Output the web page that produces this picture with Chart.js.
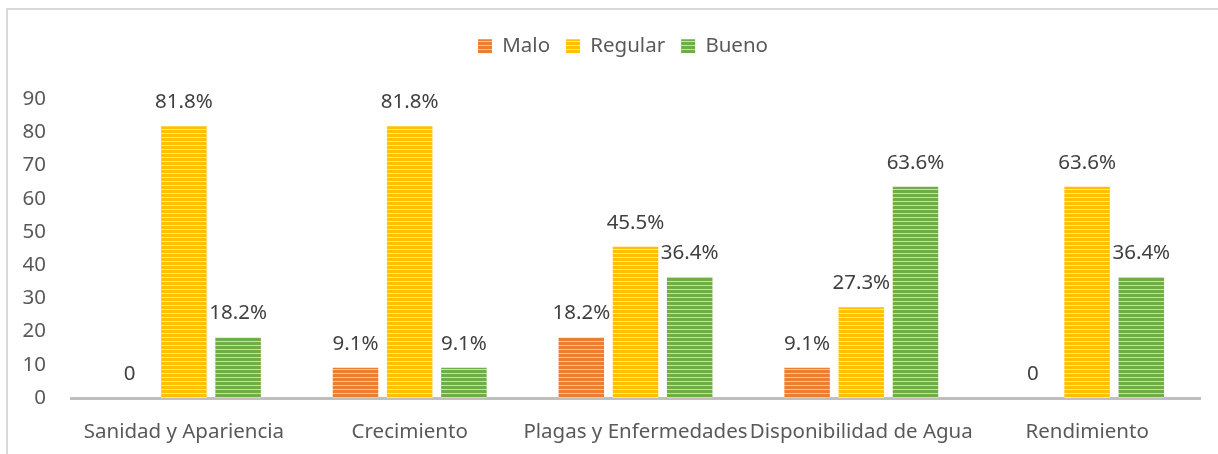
<!DOCTYPE html>
<html>
<head>
<meta charset="utf-8">
<script src="https://cdn.jsdelivr.net/npm/chart.js@4/dist/chart.umd.min.js"></script>
<style>
  body { margin: 0; background: #fff; }
  #wrap { position: relative; width: 1218px; height: 454px; overflow: hidden; }
  #frame { position: absolute; left: 6px; top: 8px; width: 1400px; height: 600px;
           border-left: 2px solid #d9d9d9; border-top: 2px solid #d9d9d9; }
  canvas { position: absolute; left: 0; top: 0; }
</style>
</head>
<body>
<div id="wrap">
  <div id="frame"></div>
  <canvas id="chart" width="1218" height="454"></canvas>
</div>
<script>
// categories and series (percent)
const categories = ['Sanidad y Apariencia', 'Crecimiento', 'Plagas y Enfermedades', 'Disponibilidad de Agua', 'Rendimiento'];
const malo = [0, 9.1, 18.2, 9.1, 0];
const regular = [81.8, 81.8, 45.5, 27.3, 63.6];
const bueno = [18.2, 9.1, 36.4, 63.6, 36.4];
const yTicks = [0, 10, 20, 30, 40, 50, 60, 70, 80, 90];

const FONT = "'Noto Sans', sans-serif";
const SIZE = 20.5;

// horizontal stripe fill for the bars
function stripes(base, light) {
  const c = document.createElement('canvas');
  c.width = 4; c.height = 4;
  const g = c.getContext('2d');
  g.fillStyle = base;
  g.fillRect(0, 0, 4, 4);
  g.fillStyle = light;
  g.fillRect(0, 1, 4, 1);
  return g.createPattern(c, 'repeat');
}

const ctx = document.getElementById('chart').getContext('2d');

// value labels above each bar
const barLabels = {
  id: 'barLabels',
  afterDatasetsDraw(chart) {
    const c = chart.ctx;
    c.save();
    c.font = SIZE + 'px ' + FONT;
    c.fillStyle = '#404040';
    c.textAlign = 'center';
    c.textBaseline = 'middle';
    chart.data.datasets.forEach((ds, i) => {
      chart.getDatasetMeta(i).data.forEach((bar, j) => {
        const v = ds.data[j];
        const txt = v === 0 ? '0' : v.toFixed(1) + '%';
        c.fillText(txt, bar.x, bar.y - 24);
      });
    });
    c.restore();
  }
};

// fixed legend block height, legend nudged right over the plot
const legendBox = {
  id: 'legendBox',
  beforeInit(chart) {
    const fit = chart.legend.fit;
    chart.legend.fit = function () {
      fit.call(this);
      this.height = 79;
    };
  },
  afterLayout(chart) {
    chart.legend.left += 23;
    chart.legend.right += 23;
  }
};

new Chart(ctx, {
  type: 'bar',
  data: {
    labels: categories,
    datasets: [
      { label: 'Malo', data: malo, backgroundColor: stripes('#ED7D31', '#F7C4A2') },
      { label: 'Regular', data: regular, backgroundColor: stripes('#FFC000', '#FFE699') },
      { label: 'Bueno', data: bueno, backgroundColor: stripes('#70AD47', '#C5E0B4') }
    ]
  },
  options: {
    responsive: false,
    animation: false,
    layout: { padding: { top: 20, right: 18, left: 0, bottom: 0 } },
    datasets: { bar: { categoryPercentage: 0.72, barPercentage: 0.84 } },
    plugins: {
      legend: {
        position: 'top',
        labels: {
          boxWidth: 14, boxHeight: 14, padding: 16,
          color: '#595959', font: { family: FONT, size: SIZE }
        }
      },
      tooltip: { enabled: false }
    },
    scales: {
      x: {
        grid: { display: false, drawTicks: false },
        border: { display: true, color: '#bfbfbf', width: 3 },
        ticks: { color: '#595959', font: { family: FONT, size: SIZE }, padding: 22, maxRotation: 0, autoSkip: false },
        afterFit(scale) { scale.height = 56; }
      },
      y: {
        min: 0, max: 90,
        grid: { display: false, drawTicks: false },
        border: { display: false },
        afterBuildTicks(scale) { scale.ticks = yTicks.map(v => ({ value: v })); },
        ticks: { color: '#595959', font: { family: FONT, size: SIZE }, padding: 25 },
        afterFit(scale) { scale.width = 71; }
      }
    }
  },
  plugins: [barLabels, legendBox]
});
</script>
</body>
</html>
